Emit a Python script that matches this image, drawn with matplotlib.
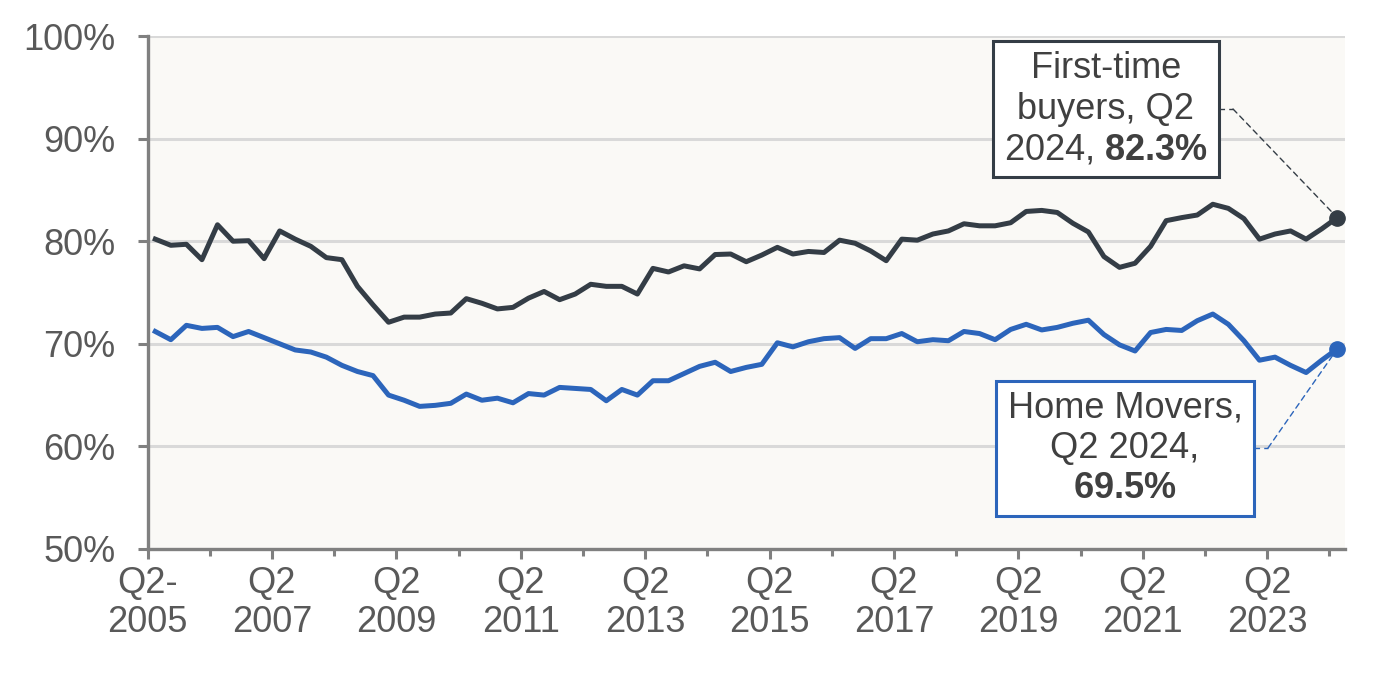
import matplotlib
matplotlib.use("Agg")
import matplotlib.pyplot as plt
from matplotlib.patches import Rectangle
from matplotlib.ticker import FixedLocator, FuncFormatter

plt.rcParams['font.family'] = ['Liberation Sans', 'DejaVu Sans']
plt.rcParams['mathtext.fontset'] = 'custom'
plt.rcParams['mathtext.rm'] = 'Liberation Sans'
plt.rcParams['mathtext.bf'] = 'Liberation Sans:bold'

# quarterly series, Q2 2005 .. Q2 2024 (%)
first_time_buyers = [
    80.2, 79.6, 79.7, 78.2, 81.6, 80.0, 80.05, 78.3, 81.0, 80.2,
    79.5, 78.4, 78.2, 75.6, 73.8, 72.1, 72.6, 72.6, 72.9, 73.0,
    74.4, 73.95, 73.4, 73.55, 74.45, 75.1, 74.3, 74.85, 75.8, 75.6,
    75.6, 74.85, 77.35, 77.0, 77.6, 77.3, 78.7, 78.75, 78.0, 78.65,
    79.4, 78.75, 79.0, 78.9, 80.1, 79.8, 79.05, 78.1, 80.2, 80.1,
    80.7, 81.0, 81.7, 81.5, 81.5, 81.8, 82.9, 83.0, 82.8, 81.75,
    80.9, 78.5, 77.45, 77.85, 79.5, 82.0, 82.3, 82.55, 83.6, 83.2,
    82.2, 80.2, 80.7, 81.0, 80.2, 81.2, 82.3,
]
home_movers = [
    71.2, 70.4, 71.8, 71.5, 71.6, 70.7, 71.2, 70.6, 70.0, 69.4,
    69.2, 68.7, 67.9, 67.3, 66.9, 65.0, 64.5, 63.9, 64.0, 64.2,
    65.1, 64.5, 64.7, 64.25, 65.15, 65.0, 65.75, 65.65, 65.55, 64.45,
    65.55, 65.0, 66.4, 66.4, 67.1, 67.8, 68.2, 67.3, 67.7, 68.0,
    70.1, 69.7, 70.2, 70.5, 70.6, 69.55, 70.5, 70.5, 71.0, 70.2,
    70.4, 70.3, 71.2, 71.0, 70.4, 71.4, 71.9, 71.35, 71.6, 72.0,
    72.3, 70.9, 69.9, 69.3, 71.1, 71.4, 71.3, 72.25, 72.9, 71.9,
    70.3, 68.4, 68.7, 67.9, 67.2, 68.4, 69.5,
]
tick_labels = ["Q2-\n2005", "Q2\n2007", "Q2\n2009", "Q2\n2011", "Q2\n2013",
               "Q2\n2015", "Q2\n2017", "Q2\n2019", "Q2\n2021", "Q2\n2023"]
y_ticks = [50, 60, 70, 80, 90, 100]

ftb_color = '#343d46'
hm_color = '#2c65bb'
grey = '#808080'
text_grey = '#595959'

fig = plt.figure(figsize=(13.84, 6.74), dpi=100)
W, H = 1384, 674
ax = fig.add_axes([147.5 / W, 1 - 549 / H, (1345 - 147.5) / W, (549 - 36) / H])
ax.set_facecolor('#faf9f6')

n = len(first_time_buyers)
x = list(range(n))
ax.plot(x, first_time_buyers, color=ftb_color, lw=3.6, solid_joinstyle='round', zorder=3)
ax.plot(x, home_movers, color=hm_color, lw=3.6, solid_joinstyle='round', zorder=3)
ax.plot(x[-1], first_time_buyers[-1], 'o', color=ftb_color, ms=11, zorder=4, clip_on=False)
ax.plot(x[-1], home_movers[-1], 'o', color=hm_color, ms=11, zorder=4, clip_on=False)

ax.set_xlim(-0.5, n - 0.5)
ax.set_ylim(50, 100)

# category axis: ticks sit between quarters
major = [-0.5 + 8 * k for k in range(len(tick_labels))]
minor = [-0.5 + 8 * k + 4 for k in range(len(tick_labels))]
ax.xaxis.set_major_locator(FixedLocator(major))
ax.xaxis.set_minor_locator(FixedLocator(minor))
ax.set_xticklabels(tick_labels)
ax.set_yticks(y_ticks)
ax.yaxis.set_major_formatter(FuncFormatter(lambda v, p: f"{v:.0f}%"))

ax.grid(axis='y', color='#d9d9d9', lw=2.2, zorder=1)
ax.set_axisbelow(True)
for s in ['top', 'right']:
    ax.spines[s].set_visible(False)
for s in ['left', 'bottom']:
    ax.spines[s].set_color(grey)
    ax.spines[s].set_linewidth(2.4)
    ax.spines[s].set_zorder(5)

ax.tick_params(axis='y', length=7, width=2.2, color=grey, pad=16,
               labelsize=26, labelcolor=text_grey)
ax.tick_params(axis='x', which='major', length=7, width=2.2, color=grey, pad=5,
               labelsize=26, labelcolor=text_grey)
ax.tick_params(axis='x', which='minor', length=5, width=2.2, color=grey)
for lab in ax.get_xticklabels():
    lab.set_linespacing(1.15)


def box_label(x0, y0, x1, y1, edge, text, elbow, point_y):
    ax.add_patch(Rectangle((x0, y0), x1 - x0, y1 - y0, transform=ax.transAxes,
                           facecolor='white', edgecolor=edge, lw=2.2,
                           zorder=6, clip_on=False))
    ax.text((x0 + x1) / 2, (y0 + y1) / 2, text, transform=ax.transAxes,
            ha='center', va='center', multialignment='center', fontsize=26,
            color='#404040', linespacing=1.2, zorder=7)
    ax.plot([x1, elbow[0]], [elbow[1], elbow[1]], transform=ax.transAxes,
            color=edge, lw=1, ls=(0, (4, 3)), clip_on=False, zorder=2)
    ax.annotate('', xy=(n - 1, point_y), xycoords='data',
                xytext=elbow, textcoords='axes fraction',
                arrowprops=dict(arrowstyle='-', color=edge, lw=1,
                                ls=(0, (4, 3)), shrinkA=0, shrinkB=0),
                zorder=2)


box_label(0.706, 0.725, 0.8948, 0.990, ftb_color,
          "First-time\nbuyers, Q2\n2024, $\\mathbf{82.3\\%}$",
          (0.9065, 0.8577), first_time_buyers[-1])
box_label(0.7086, 0.0643, 0.924, 0.3275, hm_color,
          "Home Movers,\nQ2 2024,\n$\\mathbf{69.5\\%}$",
          (0.9357, 0.1969), home_movers[-1])

fig.savefig('out.png', dpi=100)
